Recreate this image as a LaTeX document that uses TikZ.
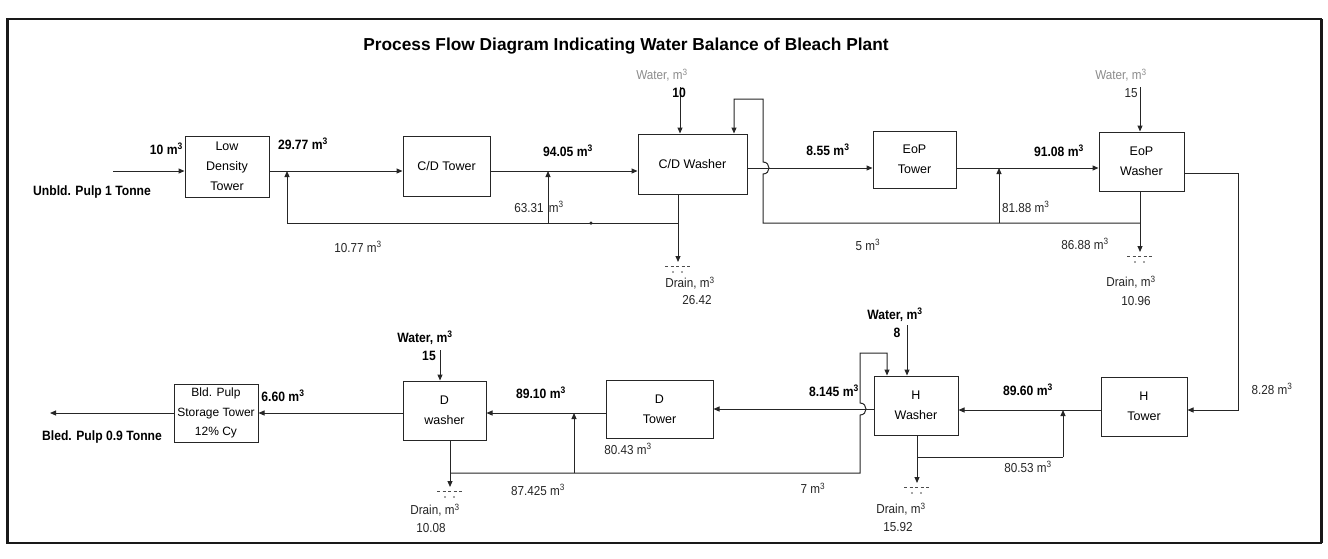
\documentclass[tikz,border=0pt]{standalone}
\usepackage{fontspec}
\setmainfont{Liberation Sans}
\newfontfamily\narrowfont{Liberation Sans}[FakeStretch=0.9]
\usetikzlibrary{arrows.meta}
\newcommand\cubm{m\textsuperscript{3}}
\begin{document}
\begin{tikzpicture}[x=1pt,y=-1pt,
  box/.style={draw=black!85, line width=1pt, inner sep=0pt, align=center,
    font=\fontsize{12.5}{20}\selectfont},
  flow/.style={draw=black!85, line width=1pt},
  arr/.style={flow, -{Triangle[length=6pt,width=5pt]}},
  lab/.style={font=\narrowfont\fontsize{13}{15}\selectfont, inner sep=0pt, text=black!85},
  blab/.style={font=\narrowfont\bfseries\fontsize{13.5}{15}\selectfont, inner sep=0pt},
  glab/.style={font=\narrowfont\fontsize{13}{15}\selectfont, inner sep=0pt, text=black!45},
  drainline/.style={draw=black!70, line width=0.8pt, dash pattern=on 3pt off 2.5pt},
  dotmark/.style={circle, fill=black!85, inner sep=0pt, minimum size=3.5pt}
]
\useasboundingbox (0,0) rectangle (1328,558);
\fill[white] (0,0) rectangle (1328,558);

% frame
\draw[black!90, line width=1.5pt] (7,19) rectangle (1321,543);
\draw[black!90, line width=3pt] (7,19) -- (7,543);
\draw[black!90, line width=3pt] (1321,19) -- (1321,543);

% title
\node[font=\bfseries\fontsize{17.3}{20}\selectfont, inner sep=0pt] (title) at (626,46)
  {Process Flow Diagram Indicating Water Balance of Bleach Plant};

% boxes
\node[box, minimum width=84pt, minimum height=61pt] (ldt) at (227,166.5) {Low\\Density\\Tower};
\node[box, minimum width=87pt, minimum height=60pt] (cdt) at (446.5,166) {C/D Tower};
\node[box, minimum width=109pt, minimum height=60pt] (cdw) at (692.5,164) {C/D Washer};
\node[box, minimum width=83pt, minimum height=57pt] (eopt) at (914.5,159.5) {EoP\\Tower};
\node[box, minimum width=85pt, minimum height=59pt] (eopw) at (1141.5,161.5) {EoP\\Washer};
\node[box, minimum width=86pt, minimum height=59pt] (ht) at (1144,406.5) {H\\Tower};
\node[box, minimum width=84pt, minimum height=59pt] (hw) at (916,405.5) {H\\Washer};
\node[box, minimum width=107pt, minimum height=58pt] (dt) at (659.5,409) {D\\Tower};
\node[box, minimum width=83pt, minimum height=59pt] (dw) at (444.5,410.5) {D\\washer};
\node[box, minimum width=84pt, minimum height=58pt, font=\fontsize{12}{19.5}\selectfont] (st) at (216,413) {Bld. Pulp\\Storage Tower\\12\% Cy};

% coordinates
\coordinate (inS) at (113,171);
\coordinate (o2) at (0,168);
\coordinate (o3) at (0,409);
\coordinate (o4) at (0,413);
\coordinate (cdd) at (678,262);
\coordinate (j1) at (678,223);
\coordinate (r1) at (287,223);
\coordinate (r2) at (548,223);
\coordinate (wc) at (680,87);
\coordinate (l1) at (1140,223);
\coordinate (l2) at (763,223);
\coordinate (jA) at (763,174);
\coordinate (jB) at (763,162);
\coordinate (l3) at (763,99);
\coordinate (l4) at (734,99);
\coordinate (r3) at (999,223);
\coordinate (we) at (1140,87);
\coordinate (ed) at (1140,252);
\coordinate (e1) at (1238,173);
\coordinate (e2) at (1238,410);
\coordinate (r4) at (1063,457);
\coordinate (j2) at (917,457);
\coordinate (hd) at (917,483);
\coordinate (wh) at (907,325);
\coordinate (m1) at (450,473);
\coordinate (m2) at (860,473);
\coordinate (kA) at (860,415);
\coordinate (kB) at (860,403);
\coordinate (m3) at (860,353);
\coordinate (m4) at (887,353);
\coordinate (r5) at (574,473);
\coordinate (dd) at (450,487);
\coordinate (wd) at (440,350);
\coordinate (out) at (50,413);

% top line
\draw[arr] (inS) -- (inS -| ldt.west);
\draw[arr] (ldt.east |- inS) -- (cdt.west |- inS);
\draw[arr] (cdt.east |- inS) -- (cdw.west |- inS);
\draw[arr] (cdw.south -| cdd) -- (cdd);
\draw[flow] (j1) -- (r1);
\draw[arr] (r1) -- (r1 |- inS);
\draw[arr] (r2) -- (r2 |- inS);
\node[dotmark] (d1) at (591,223) {};
\draw[arr] (wc) -- (wc |- cdw.north);
\draw[arr] (cdw.east |- o2) -- (eopt.west |- o2);
\draw[arr] (l1) -- (l2) -- (jA) .. controls +(8,0) and +(8,0) .. (jB) -- (l3) -- (l4) -- (l4 |- cdw.north);
\draw[arr] (eopt.east |- o2) -- (eopw.west |- o2);
\draw[arr] (r3) -- (r3 |- o2);
\draw[arr] (we) -- (we |- eopw.north);
\draw[arr] (eopw.south -| ed) -- (ed);
\draw[arr] (eopw.east |- e1) -- (e1) -- (e2) -- (ht.east |- e2);

% bottom line
\draw[arr] (ht.west |- e2) -- (hw.east |- e2);
\draw[arr] (r4) -- (r4 |- e2);
\draw[arr] (hw.south -| hd) -- (hd);
\draw[flow] (j2) -- (r4);
\draw[arr] (wh) -- (wh |- hw.north);
\draw[arr] (m1) -- (m2) -- (kA) .. controls +(8,0) and +(8,0) .. (kB) -- (m3) -- (m4) -- (m4 |- hw.north);
\draw[arr] (hw.west |- o3) -- (dt.east |- o3);
\draw[arr] (dt.west |- o4) -- (dw.east |- o4);
\draw[arr] (r5) -- (r5 |- o4);
\draw[arr] (dw.south -| dd) -- (dd);
\draw[arr] (wd) -- (wd |- dw.north);
\draw[arr] (dw.west |- o4) -- (st.east |- o4);
\draw[arr] (st.west |- o4) -- (out);

% drain symbols
\foreach \c in {cdd,ed,hd,dd}{
  \draw[drainline] (\c) ++(-13,4) -- ++(26,0);
  \fill[black!70] (\c) ++(-5,10) circle (0.8);
  \fill[black!70] (\c) ++(4,10) circle (0.8);
}

% labels top
\node[blab, anchor=east] (t10) at (183,149) {10 \cubm};
\node[blab, anchor=west] (tun) at (33,192) {Unbld. Pulp 1 Tonne};
\node[blab] (t2977) at (303,144) {29.77 \cubm};
\node[blab] (t9405) at (568,151) {94.05 \cubm};
\node[lab] (t6331) at (539,207) {63.31 \,\cubm};
\node[lab] (t1077) at (358,247) {10.77 \cubm};
\node[glab] (twc) at (662,75) {Water, \cubm};
\node[blab, font=\narrowfont\bfseries\fontsize{13.5}{15}\selectfont] (twc10) at (679,93) {10};
\node[blab] (t855) at (828,150) {8.55 \cubm};
\node[lab] (t5) at (868,245) {5 \cubm};
\node[lab] (tdr1) at (690,283) {Drain, \cubm};
\node[lab] (t2642) at (697,300) {26.42};
\node[blab] (t9108) at (1059,151) {91.08 \cubm};
\node[lab, anchor=west] (t8188) at (1002,207) {81.88 \cubm};
\node[glab] (twe) at (1121,75) {Water, \cubm};
\node[lab] (twe15) at (1131,93) {15};
\node[lab] (t8688) at (1085,244) {86.88 \cubm};
\node[lab] (tdr2) at (1131,282) {Drain, \cubm};
\node[lab] (t1096) at (1136,301) {10.96};
\node[lab] (t828) at (1272,389) {8.28 \cubm};

% labels bottom
\node[blab] (t8960) at (1028,390) {89.60 \cubm};
\node[lab] (t8053) at (1028,467) {80.53 \cubm};
\node[blab] (twh) at (895,315) {Water, \cubm};
\node[blab] (twh8) at (897,333) {8};
\node[blab] (t8145) at (834,391) {8.145 \cubm};
\node[lab] (tdr3) at (901,509) {Drain, \cubm};
\node[lab] (t1592) at (898,527) {15.92};
\node[lab] (t7) at (813,488) {7 \cubm};
\node[lab] (t8043) at (628,449) {80.43 \cubm};
\node[blab] (t8910) at (541,393) {89.10 \cubm};
\node[lab] (t87425) at (538,490) {87.425 \cubm};
\node[blab] (twd) at (425,338) {Water, \cubm};
\node[blab] (twd15) at (429,356) {15};
\node[lab] (tdr4) at (435,510) {Drain, \cubm};
\node[lab] (t1008) at (431,528) {10.08};
\node[blab] (t660) at (283,396) {6.60 \cubm};
\node[blab] (tbl) at (102,437) {Bled. Pulp 0.9 Tonne};
\end{tikzpicture}
\end{document}
